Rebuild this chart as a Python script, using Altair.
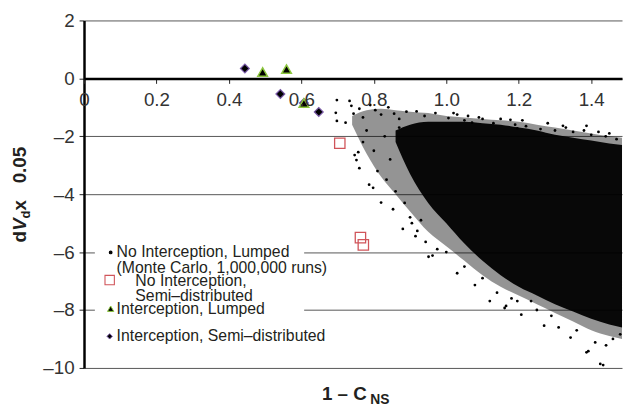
import altair as alt
import pandas as pd

FONT = "Liberation Sans"

# ---- Monte Carlo cloud (No Interception, Lumped): outline of the looser outer region ----
halo_x = [0.74, 0.78, 0.82, 0.86, 0.90, 0.95, 1.00, 1.05, 1.10, 1.15, 1.20, 1.25, 1.30, 1.35, 1.40, 1.45, 1.485]
halo_top = [-1.3, -1.1, -1.05, -1.1, -1.15, -1.2, -1.3, -1.35, -1.4, -1.45, -1.5, -1.6, -1.7, -1.8, -1.9, -2.0, -2.05]
halo_bottom = [-1.6, -2.6, -3.4, -4.0, -4.6, -5.3, -5.8, -6.3, -6.8, -7.2, -7.5, -7.8, -8.1, -8.4, -8.7, -8.9, -9.0]

# ---- Monte Carlo cloud: outline of the saturated core ----
core_x = [0.86, 0.90, 0.95, 1.00, 1.05, 1.10, 1.15, 1.20, 1.25, 1.30, 1.35, 1.40, 1.45, 1.485]
core_top = [-1.8, -1.6, -1.5, -1.5, -1.5, -1.55, -1.6, -1.7, -1.8, -1.95, -2.05, -2.15, -2.25, -2.3]
core_bottom = [-2.2, -3.3, -4.3, -5.0, -5.7, -6.3, -6.8, -7.2, -7.5, -7.8, -8.05, -8.3, -8.5, -8.6]

# ---- Monte Carlo cloud: scattered fringe runs ----
mc_x = [0.698, 0.695, 0.698, 0.733, 0.738, 0.744, 0.722, 0.76, 0.77, 0.79, 0.804, 0.82, 0.84,
        0.856, 0.87, 0.89, 0.918, 0.94, 0.97, 1.006, 1.03, 1.05, 1.071, 1.10, 1.13, 1.177, 1.19,
        1.196, 1.22, 1.26, 1.30, 1.322, 1.35, 1.387, 1.40, 1.44, 1.47,
        0.747, 0.757, 0.752, 0.76, 0.77, 0.78, 0.787, 0.798, 0.80, 0.81, 0.82, 0.83, 0.835, 0.845,
        0.853, 0.86, 0.87, 0.88, 0.885, 0.90, 0.92, 0.93, 0.943, 0.962, 0.951, 0.905, 0.915, 0.975,
        1.00, 1.03, 1.05, 1.079, 1.10, 1.12, 1.14, 1.161, 1.165, 1.18, 1.196, 1.207, 1.234, 1.25,
        1.27, 1.29, 1.31, 1.343, 1.36, 1.387, 1.392, 1.411, 1.425, 1.433, 1.441, 1.46, 1.48,
        1.02, 1.06, 1.09, 1.15, 1.21, 1.28, 1.33, 1.38, 1.42, 1.45]
mc_y = [-0.75, -1.19, -1.47, -0.78, -0.95, -1.22, -1.53, -1.05, -1.35, -0.92, -1.10, -1.25, -1.00,
        -1.22, -1.40, -1.15, -1.14, -1.30, -1.20, -1.37, -1.25, -1.45, -1.53, -1.40, -1.55, -1.43, -1.60,
        -1.73, -1.65, -1.75, -1.80, -1.64, -1.85, -1.64, -1.95, -2.00, -2.10,
        -2.65, -2.55, -2.82, -3.10, -2.20, -1.80, -3.67, -3.78, -2.50, -3.20, -4.29, -2.00, -3.50, -2.80,
        -4.52, -3.90, -1.70, -5.20, -4.30, -4.80, -5.27, -4.90, -5.65, -6.12, -6.16, -5.00, -5.45, -5.90,
        -6.00, -6.73, -6.50, -7.14, -6.90, -7.69, -7.40, -7.93, -7.86, -7.60, -7.69, -8.16, -7.69, -8.00,
        -8.54, -8.20, -8.60, -8.95, -8.70, -9.46, -9.42, -9.12, -9.86, -9.90, -9.22, -9.00, -8.84,
        -1.20, -1.30, -1.35, -1.40, -1.45, -1.55, -1.70, -1.80, -1.85, -1.90]

# ---- other series ----
sq_x = [0.706, 0.763, 0.771]            # No Interception, Semi-distributed
sq_y = [-2.24, -5.50, -5.75]
tri_x = [0.493, 0.559, 0.607]           # Interception, Lumped
tri_y = [0.22, 0.32, -0.85]
dia_x = [0.444, 0.542, 0.607, 0.648]    # Interception, Semi-distributed
dia_y = [0.34, -0.54, -0.85, -1.16]

x_ticks = [0, 0.2, 0.4, 0.6, 0.8, 1.0, 1.2, 1.4]
y_ticks = [-10, -8, -6, -4, -2, 0, 2]

W, H = 545, 352
xs = alt.Scale(domain=[0, 1.485], nice=False, zero=False)
ys = alt.Scale(domain=[-10, 2], nice=False, zero=False)

ax_x = alt.Axis(values=x_ticks, orient="bottom", offset=-293.3,
                labelExpr="datum.value == 0 ? '0' : format(datum.value, '.1f')",
                domainColor="black", domainWidth=2.5, tickColor="#222", tickSize=5, tickWidth=1,
                labelFont=FONT, labelFontSize=19, labelColor="#333", labelPadding=7,
                labelFlush=False, labelOverlap=False, grid=False, title=None, zindex=1)
ax_y = alt.Axis(values=y_ticks,
                labelExpr="datum.value < 0 ? '–' + abs(datum.value) : '' + datum.value",
                domainColor="black", domainWidth=2.5, tickColor="#222", tickSize=5, tickWidth=1,
                labelFont=FONT, labelFontSize=19, labelColor="#333", labelPadding=5,
                grid=True, gridColor="#555", gridWidth=1, title=None)

X = lambda f: alt.X(f, type="quantitative", scale=xs, axis=ax_x)
Y = lambda f: alt.Y(f, type="quantitative", scale=ys, axis=ax_y)

halo = alt.Chart(pd.DataFrame({"x": halo_x, "top": halo_top, "bottom": halo_bottom})).mark_area(
    color="black", opacity=0.42, interpolate="monotone").encode(x=X("x"), y=Y("top"), y2="bottom")
core = alt.Chart(pd.DataFrame({"x": core_x, "top": core_top, "bottom": core_bottom})).mark_area(
    color="black", opacity=0.95, interpolate="monotone").encode(x=X("x"), y=Y("top"), y2="bottom")
mc = alt.Chart(pd.DataFrame({"x": mc_x, "y": mc_y})).mark_circle(
    size=8, color="black", opacity=1).encode(x=X("x"), y=Y("y"))
sq = alt.Chart(pd.DataFrame({"x": sq_x, "y": sq_y})).mark_point(
    shape="square", size=110, filled=False, stroke="#d0545a", strokeWidth=1.3, opacity=1
).encode(x=X("x"), y=Y("y"))
dia = alt.Chart(pd.DataFrame({"x": dia_x, "y": dia_y})).mark_point(
    shape="diamond", size=80, filled=True, fill="black", stroke="#7a5aa8", strokeWidth=1.2, opacity=1
).encode(x=X("x"), y=Y("y"))
tri = alt.Chart(pd.DataFrame({"x": tri_x, "y": tri_y})).mark_point(
    shape="triangle-up", size=95, filled=True, fill="black", stroke="#8cc63e", strokeWidth=1.5, opacity=1
).encode(x=X("x"), y=Y("y"))

one = alt.Data(values=[{"a": 1}])


def txt(s, x, y, size=16, weight="normal", style="normal", angle=0, baseline="middle"):
    kw = dict(align="left", baseline=baseline, fontSize=size, font=FONT,
              fontWeight=weight, fontStyle=style, color="#231f20")
    if angle:
        kw["angle"] = angle
    return alt.Chart(one).mark_text(**kw).encode(x=alt.value(x), y=alt.value(y), text=alt.value(s))


def sym(shape, x, y, size, fill, stroke, filled=True, sw=1.2):
    kw = dict(shape=shape, size=size, filled=filled, strokeWidth=sw, opacity=1)
    if filled:
        kw["fill"] = fill
    kw["stroke"] = stroke
    return alt.Chart(one).mark_point(**kw).encode(x=alt.value(x), y=alt.value(y))


box = alt.Chart(one).mark_rect(fill="white").encode(
    x=alt.value(11), x2=alt.value(223), y=alt.value(227), y2=alt.value(332))

legend = [
    box,
    sym("circle", 27, 235, 7, "black", "black"),
    txt("No Interception, Lumped", 33, 235),
    txt("(Monte Carlo, 1,000,000 runs)", 33, 251),
    sym("square", 26, 263, 90, None, "#d0545a", filled=False, sw=1.1),
    txt("No Interception,", 52, 264),
    txt("Semi–distributed", 52, 279),
    sym("triangle-up", 27, 292, 40, "black", "#8cc63e", sw=1.0),
    txt("Interception, Lumped", 33, 292),
    sym("diamond", 26, 320, 30, "black", "#7a5aa8", sw=1.0),
    txt("Interception, Semi–distributed", 33, 320),
]

titles = [
    txt("1 – C", 241, 384, size=19, weight="bold", baseline="alphabetic"),
    txt("NS", 290, 389, size=14, weight="bold", baseline="alphabetic"),
    txt("d", -59, 225, size=19, weight="bold", angle=270, baseline="alphabetic"),
    txt("V", -59, 213, size=19, weight="bold", style="italic", angle=270, baseline="alphabetic"),
    txt("d", -55, 200.5, size=13, weight="bold", angle=270, baseline="alphabetic"),
    txt("x", -59, 192.5, size=19, weight="bold", angle=270, baseline="alphabetic"),
    txt("0.05", -59, 165, size=19, weight="bold", angle=270, baseline="alphabetic"),
]

chart = alt.layer(halo, core, mc, sq, dia, tri, *legend, *titles).properties(
    width=W, height=H,
    padding={"left": 77, "top": 10, "right": 1, "bottom": 40},
    autosize=alt.AutoSizeParams(type="none"),
).configure_view(stroke=None)

chart.save("out.html", embed_options={"renderer": "svg", "actions": False})
